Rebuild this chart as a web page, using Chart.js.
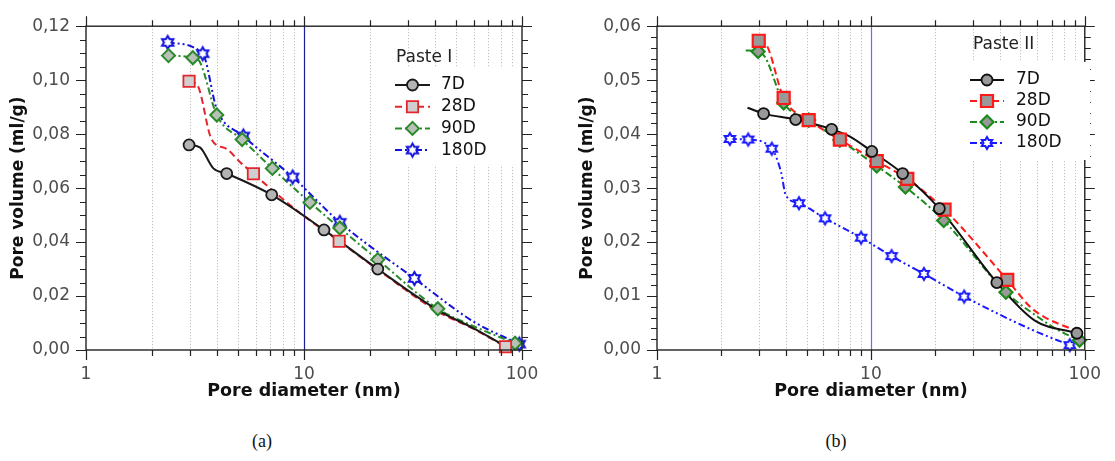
<!DOCTYPE html>
<html>
<head>
<meta charset="utf-8">
<script src="https://cdn.jsdelivr.net/npm/chart.js@4.4.1/dist/chart.umd.min.js"></script>
<style>
  body { margin: 0; background: #fff; width: 1115px; height: 461px; overflow: hidden; position: relative; }
  .box { position: absolute; top: 0; height: 420px; }
  #boxA { left: 0; width: 557px; }
  #boxB { left: 557px; width: 558px; }
  .cap { position: absolute; top: 431px; font-family: "Liberation Serif", "DejaVu Serif", serif; font-size: 18px; color: #111; transform: translateX(-50%); }
</style>
</head>
<body>
<div class="box" id="boxA"><canvas id="chartA"></canvas></div>
<div class="box" id="boxB"><canvas id="chartB"></canvas></div>
<div class="cap" style="left:262px">(a)</div>
<div class="cap" style="left:836px">(b)</div>
<script>
// Axis ticks
const xTicks = [1, 10, 100];
const yTicksA = [0, 0.02, 0.04, 0.06, 0.08, 0.10, 0.12];
const yTicksB = [0, 0.01, 0.02, 0.03, 0.04, 0.05, 0.06];
const seriesNames = ['7D', '28D', '90D', '180D'];

// Paste I - measured points (markers) and extra points on the curve between them
const a7X = [2.97, 4.42, 7.11, 12.35, 21.8];
const a7Y = [0.076, 0.0654, 0.0575, 0.0445, 0.030];
const a7KnotX = [3.33, 3.84, 41.2, 60, 85];
const a7KnotY = [0.0751, 0.0673, 0.0147, 0.008, 0.0012];

const a28X = [2.97, 5.86, 14.5, 84];
const a28Y = [0.0996, 0.0653, 0.0403, 0.0012];
const a28KnotX = [3.25, 3.77, 4.42, 5.08, 9.5, 21.8, 41, 60];
const a28KnotY = [0.098, 0.078, 0.0745, 0.0697, 0.051, 0.0298, 0.0143, 0.0078];

const a90X = [2.39, 3.09, 3.98, 5.2, 7.16, 10.65, 14.6, 21.8, 41.1, 92.9];
const a90Y = [0.1091, 0.1083, 0.0871, 0.078, 0.0673, 0.0547, 0.0452, 0.0335, 0.0153, 0.0025];
const a90KnotX = [3.33, 60];
const a90KnotY = [0.1067, 0.0088];

const a180X = [2.37, 3.43, 5.27, 8.87, 14.6, 32.1, 97.2];
const a180Y = [0.114, 0.1098, 0.0793, 0.0641, 0.0473, 0.0265, 0.0022];
const a180KnotX = [3.98, 60];
const a180KnotY = [0.0893, 0.0105];

// Paste II
const b7X = [3.15, 4.45, 6.55, 10.1, 14.07, 20.9, 38.8, 91.9];
const b7Y = [0.0438, 0.0427, 0.0409, 0.0368, 0.0327, 0.0262, 0.0125, 0.0031];
const b7KnotX = [2.65, 7.95, 58.2];
const b7KnotY = [0.0449, 0.0396, 0.0055];

const b28X = [2.99, 3.91, 5.12, 7.16, 10.65, 14.8, 22.1, 43.4];
const b28Y = [0.0573, 0.0467, 0.0426, 0.039, 0.035, 0.0317, 0.026, 0.013];
const b28KnotX = [3.24, 57, 95];
const b28KnotY = [0.0566, 0.0076, 0.0032];

const b90X = [2.97, 3.91, 5.12, 7.16, 10.65, 14.5, 21.9, 42.8, 94.5];
const b90Y = [0.0553, 0.0458, 0.0426, 0.0389, 0.0341, 0.0302, 0.024, 0.0107, 0.0018];
const b90KnotX = [2.6, 3.2, 60, 75];
const b90KnotY = [0.0555, 0.0543, 0.0062, 0.0037];

const b180X = [2.19, 2.67, 3.44, 4.61, 6.11, 9.0, 12.5, 17.7, 27.3, 85.1];
const b180Y = [0.0391, 0.039, 0.0373, 0.0272, 0.0244, 0.0208, 0.0174, 0.0141, 0.0099, 0.0009];
const b180KnotX = [3.8, 4.0, 57];
const b180KnotY = [0.033, 0.0287, 0.0037];

Chart.defaults.font.family = '"DejaVu Sans", Verdana, sans-serif';

// star of David marker as a small canvas
function hexagram(R, color, lw) {
    const s = Math.ceil(2 * R + 2 * lw + 2);
    const c = document.createElement('canvas');
    c.width = s; c.height = s;
    const g = c.getContext('2d');
    const r = R / Math.sqrt(3);
    g.beginPath();
    for (let i = 0; i < 12; i++) {
        const ang = -Math.PI / 2 + i * Math.PI / 6;
        const rad = i % 2 === 0 ? R : r;
        const px = s / 2 + rad * Math.cos(ang), py = s / 2 + rad * Math.sin(ang);
        i === 0 ? g.moveTo(px, py) : g.lineTo(px, py);
    }
    g.closePath();
    g.fillStyle = '#fff'; g.fill();
    g.lineWidth = lw; g.strokeStyle = color; g.lineJoin = 'miter'; g.stroke();
    return c;
}

const stylesA = [
    { color: '#1a1a1a', dash: [], point: 'circle', r: 5.5, fill: '#b4b4b4', bw: 1.8 },
    { color: '#e3262c', dash: [7, 4], point: 'rect', r: 8, fill: '#cfcfcf', bw: 1.8 },
    { color: '#2a8a2a', dash: [7, 3, 2, 3], point: 'rectRot', r: 6.5, fill: '#b8c0b8', bw: 2 },
    { color: '#1212dd', dash: [7, 3, 2, 3, 2, 3], point: hexagram(6.5, '#1212dd', 2), r: 7, fill: '#fff', bw: 2 }
];
const stylesB = [
    { color: '#111111', dash: [], point: 'circle', r: 5.5, fill: '#999999', bw: 1.8 },
    { color: '#ff1a1a', dash: [7, 4], point: 'rect', r: 8.5, fill: '#999999', bw: 2.2 },
    { color: '#1a8a1a', dash: [7, 3, 2, 3], point: 'rectRot', r: 6.5, fill: '#999999', bw: 2.2 },
    { color: '#1a1aff', dash: [7, 3, 2, 3, 2, 3], point: hexagram(6, '#1a1aff', 2), r: 7, fill: '#fff', bw: 2 }
];

function pts(xs, ys) {
    return xs.map((x, i) => ({ x: x, y: ys[i] }));
}
function curve(mx, my, kx, ky) {
    return pts(mx, my).concat(pts(kx, ky)).sort((p, q) => p.x - q.x);
}

function buildDatasets(series, styles) {
    const lines = [], marks = [];
    series.forEach((s, i) => {
        const st = styles[i];
        lines.push({
            label: seriesNames[i] + ' curve',
            data: curve(s[0], s[1], s[2], s[3]),
            borderColor: st.color, borderWidth: 2, borderDash: st.dash,
            pointRadius: 0, cubicInterpolationMode: 'monotone',
            fill: false, clip: false, order: 2
        });
        marks.push({
            label: seriesNames[i],
            data: pts(s[0], s[1]),
            showLine: false,
            pointStyle: st.point, pointRadius: st.r, pointBorderWidth: st.bw,
            pointBorderColor: st.color, pointBackgroundColor: st.fill,
            clip: false, order: 1
        });
    });
    return lines.concat(marks);
}

function framePlugin(cfg) {
    return {
        id: 'frame',
        beforeDatasetsDraw(chart) {
            const { ctx, chartArea: a, scales: { x } } = chart;
            ctx.save();
            ctx.strokeStyle = '#b4b4b4';
            ctx.lineWidth = 1;
            ctx.setLineDash([1, 2]);
            [1, 10].forEach(d => {
                for (let k = 2; k <= 9; k++) {
                    const px = Math.round(x.getPixelForValue(d * k)) + 0.5;
                    ctx.beginPath(); ctx.moveTo(px, a.top); ctx.lineTo(px, a.bottom); ctx.stroke();
                }
            });
            ctx.setLineDash([]);
            ctx.strokeStyle = cfg.markColor;
            ctx.lineWidth = 1.2;
            const p10 = Math.round(x.getPixelForValue(10)) + 0.5;
            ctx.beginPath(); ctx.moveTo(p10, a.top); ctx.lineTo(p10, a.bottom); ctx.stroke();
            ctx.restore();
        },
        afterDatasetsDraw(chart) {
            const { ctx, chartArea: a, scales: { x, y } } = chart;
            ctx.save();
            ctx.strokeStyle = '#222';
            ctx.lineWidth = 1.4;
            ctx.strokeRect(a.left, a.top, a.right - a.left, a.bottom - a.top);
            ctx.lineWidth = 1.2;
            ctx.beginPath();
            [1, 10].forEach(d => {
                for (let k = 1; k <= 9; k++) {
                    const px = Math.round(x.getPixelForValue(d * k)) + 0.5;
                    const len = k === 1 ? 10 : 6;
                    ctx.moveTo(px, a.bottom); ctx.lineTo(px, a.bottom + len);
                    ctx.moveTo(px, a.top); ctx.lineTo(px, a.top - len);
                }
            });
            const p100 = Math.round(x.getPixelForValue(100)) + 0.5;
            ctx.moveTo(p100, a.bottom); ctx.lineTo(p100, a.bottom + 10);
            ctx.moveTo(p100, a.top); ctx.lineTo(p100, a.top - 10);
            const n = Math.round(cfg.yMax / cfg.yMinor);
            for (let i = 0; i <= n; i++) {
                const py = Math.round(y.getPixelForValue(i * cfg.yMinor)) + 0.5;
                const len = i % cfg.perMajor === 0 ? 10 : 6;
                ctx.moveTo(a.left, py); ctx.lineTo(a.left - len, py);
                ctx.moveTo(a.right, py); ctx.lineTo(a.right + len, py);
            }
            ctx.stroke();

            // legend
            const lg = cfg.legend;
            ctx.fillStyle = '#fff';
            ctx.fillRect(lg.box[0], lg.box[1], lg.box[2], lg.box[3]);
            ctx.font = '17px "DejaVu Sans"';
            ctx.fillStyle = '#222';
            ctx.textBaseline = 'middle';
            ctx.textAlign = 'left';
            ctx.fillText(lg.title, lg.titleX, lg.titleY);
            cfg.styles.forEach((st, i) => {
                const ly = lg.rowY + i * lg.rowGap;
                ctx.strokeStyle = st.color;
                ctx.lineWidth = 2;
                ctx.setLineDash(st.dash);
                ctx.beginPath(); ctx.moveTo(lg.x0, ly); ctx.lineTo(lg.x1, ly); ctx.stroke();
                ctx.setLineDash([]);
                ctx.fillStyle = st.fill;
                ctx.lineWidth = st.bw;
                Chart.helpers.drawPoint(ctx, { pointStyle: st.point, radius: st.r, borderWidth: st.bw, rotation: 0 }, (lg.x0 + lg.x1) / 2, ly);
                ctx.fillStyle = '#111';
                ctx.fillText(seriesNames[i], lg.textX, ly);
            });
            ctx.restore();
        }
    };
}

function makeChart(id, series, styles, yTicks, yAxisW, yTitlePad, padRight, cfg) {
    return new Chart(document.getElementById(id), {
        type: 'line',
        data: { datasets: buildDatasets(series, styles) },
        plugins: [framePlugin(Object.assign({ styles: styles }, cfg))],
        options: {
            responsive: true,
            maintainAspectRatio: false,
            animation: false,
            devicePixelRatio: 1,
            layout: { padding: { left: 0, right: padRight, top: 22.7, bottom: 0 } },
            plugins: { legend: { display: false }, tooltip: { enabled: false } },
            scales: {
                x: {
                    type: 'logarithmic', min: 1, max: 100,
                    afterBuildTicks: s => { s.ticks = xTicks.map(v => ({ value: v })); },
                    afterFit: s => { s.height = 70; },
                    grid: { display: false, drawTicks: false },
                    border: { display: false },
                    ticks: { padding: 14, color: '#4d4d4d', font: { size: 17 }, maxRotation: 0, autoSkip: false,
                             callback: v => String(v) },
                    title: { display: true, text: 'Pore diameter (nm)', color: '#111',
                             font: { size: 17.5, weight: 'bold' }, padding: { top: 0, bottom: 18 } }
                },
                y: {
                    type: 'linear', min: 0, max: cfg.yMax,
                    afterBuildTicks: s => { s.ticks = yTicks.map(v => ({ value: v })); },
                    afterFit: s => { s.width = yAxisW; },
                    grid: { display: false, drawTicks: false },
                    border: { display: false },
                    ticks: { padding: 16, color: '#4d4d4d', font: { size: 17 },
                             callback: v => Number(v).toFixed(2).replace('.', ',') },
                    title: { display: true, text: 'Pore volume (ml/g)', color: '#111',
                             font: { size: 17, weight: 'bold' }, padding: { top: yTitlePad, bottom: 0 } }
                }
            }
        }
    });
}

makeChart('chartA',
    [[a7X, a7Y, a7KnotX, a7KnotY], [a28X, a28Y, a28KnotX, a28KnotY],
     [a90X, a90Y, a90KnotX, a90KnotY], [a180X, a180Y, a180KnotX, a180KnotY]],
    stylesA, yTicksA, 86, 8, 35,
    { yMax: 0.12, yMinor: 0.005, perMajor: 4, markColor: '#1c1c96',
      legend: { box: [388, 68, 128, 97], title: 'Paste I', titleX: 396, titleY: 58,
                rowY: 85, rowGap: 21.7, x0: 395, x1: 430, textX: 441 } });

makeChart('chartB',
    [[b7X, b7Y, b7KnotX, b7KnotY], [b28X, b28Y, b28KnotX, b28KnotY],
     [b90X, b90Y, b90KnotX, b90KnotY], [b180X, b180Y, b180KnotX, b180KnotY]],
    stylesB, yTicksB, 100, 20, 22,
    { yMax: 0.06, yMinor: 0.002, perMajor: 5, markColor: '#6a6aff',
      legend: { box: [406, 62, 127, 98], title: 'Paste II', titleX: 416, titleY: 45,
                rowY: 80, rowGap: 21, x0: 413, x1: 447, textX: 459 } });
</script>
</body>
</html>
